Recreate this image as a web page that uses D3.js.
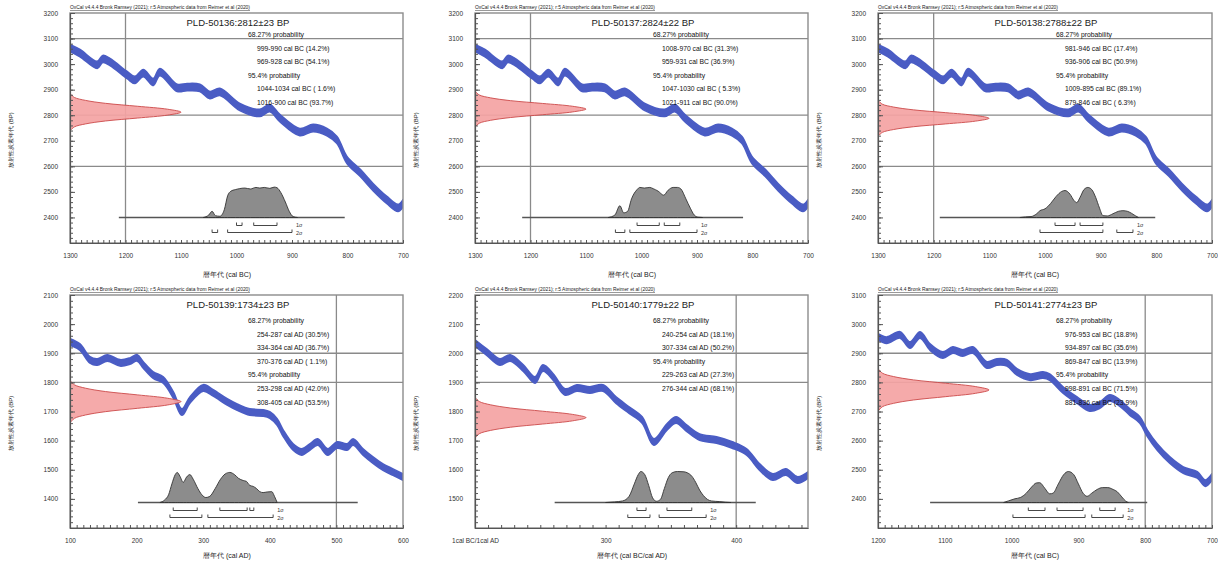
<!DOCTYPE html>
<html><head><meta charset="utf-8">
<script src="https://cdn.jsdelivr.net/npm/d3@7"></script>
<style>
body{margin:0;background:#fff;}
svg{display:block;}
text{font-family:"Liberation Sans",Arial,sans-serif;}
</style>
</head><body>
<svg id="c" width="1218" height="567"></svg>
<script>
// ---------------- DATA ----------------
const labCodes = ["PLD-50136","PLD-50137","PLD-50138","PLD-50139","PLD-50140","PLD-50141"];
const bpValues = [2812, 2824, 2788, 1734, 1779, 2774];
const bpErrors = [23, 22, 22, 23, 22, 23];
const xTitles = ["暦年代 (cal BC)","暦年代 (cal BC)","暦年代 (cal BC)","暦年代 (cal AD)","暦年代 (cal BC/cal AD)","暦年代 (cal BC)"];
const yTitle = "放射性炭素年代 (BP)";
const headerNote = "OxCal v4.4.4 Bronk Ramsey (2021); r:5 Atmospheric data from Reimer et al (2020)";

const xDomains = [[1300,700],[1300,700],[1300,700],[100,600],[200,455],[1200,700]];
const yDomains = [[2300,3200],[2300,3200],[2300,3200],[1300,2100],[1400,2200],[2300,3100]];
const xTickValues = [
  [1300,1200,1100,1000,900,800,700],[1300,1200,1100,1000,900,800,700],[1300,1200,1100,1000,900,800,700],
  [100,200,300,400,500,600],[200,300,400],[1200,1100,1000,900,800,700]];
const xTickLabels = [
  ["1300","1200","1100","1000","900","800","700"],["1300","1200","1100","1000","900","800","700"],
  ["1300","1200","1100","1000","900","800","700"],["100","200","300","400","500","600"],
  ["1cal BC/1cal AD","300","400"],["1200","1100","1000","900","800","700"]];
const yTickValues = [
  [2400,2500,2600,2700,2800,2900,3000,3100,3200],[2400,2500,2600,2700,2800,2900,3000,3100,3200],
  [2400,2500,2600,2700,2800,2900,3000,3100,3200],[1400,1500,1600,1700,1800,1900,2000,2100],
  [1500,1600,1700,1800,1900,2000,2100,2200],[2400,2500,2600,2700,2800,2900,3000,3100]];
const hGridValues = [[3100,2800,2600],[3100,2800,2600],[3100,2800,2600],[1900,1800],[2000,1900],[2900,2800]];
const vGridValues = [[1200],[1200],[1200],[500],[400],[800]];

// calibration curve (IntCal20)
const curveBCYears = [1300,1282,1251,1241,1228,1197,1183,1168,1150,1138,1107,1089,1066,1048,1030,994,958,940,922,886,862,837,819,801,777,754,729,709,700];
const curveBCBP    = [3063,3043,2997,3020,3008,2957,2938,2965,2930,2969,2907,2910,2907,2879,2891,2832,2809,2828,2789,2734,2750,2734,2703,2625,2574,2519,2468,2437,2456];
const curve4Years = [100,115,130,141,156,175,190,201,210,225,240,255,268,280,300,315,336,351,370,390,400,411,420,435,448,460,472,487,501,516,525,540,555,570,585,600];
const curve4BP    = [1939,1921,1877,1870,1884,1867,1873,1884,1860,1825,1808,1757,1698,1739,1781,1764,1733,1715,1698,1695,1688,1664,1626,1578,1561,1578,1595,1561,1585,1578,1595,1561,1533,1509,1492,1475];
const curve5Years = [200,209,219,227,237,246,252,260,269,278,288,298,308,318,328,337,347,354,362,372,385,397,408,418,428,438,447,455];
const curve5BP    = [2035,2004,1970,1984,1949,1908,1949,1918,1867,1881,1874,1881,1839,1805,1771,1695,1747,1771,1743,1712,1702,1685,1661,1609,1575,1592,1565,1582];
const curve6Years = [1200,1187,1167,1152,1137,1122,1103,1088,1073,1058,1037,1022,1007,992,972,953,943,923,902,883,868,853,838,823,808,797,782,763,743,722,710,700];
const curve6BP    = [2956,2945,2963,2928,2963,2921,2894,2911,2901,2911,2860,2870,2867,2836,2818,2825,2818,2774,2739,2712,2722,2746,2729,2698,2671,2626,2578,2533,2499,2482,2454,2475];
const curveHalfWidth = [14,14,14,11,11,11];

// measured 14C age profile (offset in sigma units, relative height)
const measSigmaOffsets = [-3,-2.5,-2,-1.5,-1,-0.5,0,0.5,1,1.5,2,2.5,3];
const measRelHeights   = [0.01,0.04,0.14,0.32,0.61,0.88,1,0.88,0.61,0.32,0.14,0.04,0.01];

// calibrated distributions
const dist1Years = [1060,1050,1044,1038,1030,1022,1016,1010,1002,995,985,975,965,958,950,940,932,927,920,912,905,898,890];
const dist1Prob  = [0,0.08,0.2,0.06,0.04,0.25,0.7,0.85,0.9,0.93,0.95,0.92,0.97,0.95,0.97,0.94,0.98,0.96,0.8,0.5,0.2,0.03,0];
const dist2Years = [1060,1048,1039,1032,1025,1018,1008,1003,995,985,979,970,960,952,943,935,929,920,912,905,898,890];
const dist2Prob  = [0,0.08,0.38,0.15,0.2,0.6,0.9,0.97,0.95,0.97,0.93,0.85,0.72,0.88,0.97,0.97,0.92,0.6,0.3,0.08,0.01,0];
const dist3Years = [1045,1035,1025,1015,1009,1000,990,980,970,964,955,948,943,937,930,923,916,909,902,896,888,878,868,860,852,845,838,832];
const dist3Prob  = [0,0.02,0.03,0.12,0.22,0.28,0.45,0.68,0.84,0.87,0.75,0.55,0.48,0.65,0.9,0.97,0.9,0.65,0.3,0.06,0.05,0.12,0.2,0.22,0.2,0.14,0.06,0];
const dist4Years = [235,242,248,253,258,261,265,270,275,280,285,292,298,304,310,318,326,333,340,347,353,360,365,370,375,380,385,390,396,403,407,411];
const dist4Prob  = [0,0.08,0.25,0.6,0.9,0.97,0.85,0.65,0.82,0.9,0.75,0.45,0.25,0.16,0.2,0.45,0.75,0.92,0.97,0.9,0.78,0.71,0.68,0.55,0.52,0.45,0.35,0.32,0.34,0.35,0.2,0];
const dist5Years = [300,307,313,318,322,325,327,330,333,336,339,342,345,348,351,355,360,363,366,369,372,375,378,381,387,392,396];
const dist5Prob  = [0,0.02,0.05,0.2,0.6,0.9,1,0.9,0.55,0.15,0.04,0.1,0.45,0.8,0.96,1,0.99,0.95,0.85,0.65,0.4,0.22,0.1,0.05,0.03,0.01,0];
const dist6Years = [1012,1005,995,987,978,970,963,958,950,943,938,930,922,915,907,900,893,887,880,872,864,856,848,842,835,829,825];
const dist6Prob  = [0,0.05,0.12,0.16,0.3,0.5,0.63,0.64,0.45,0.28,0.3,0.6,0.9,1,0.9,0.6,0.3,0.2,0.3,0.42,0.48,0.48,0.42,0.35,0.18,0.04,0];
const distBaseSpans = [[1212,805],[1215,817],[1189,802],[202,532],[261,415],[1122,797]];

// 1σ / 2σ ranges
const sigma1Ranges = [
  [[1000,990],[969,927]], [[1008,968],[959,931]], [[982,946],[937,896]],
  [[255,291],[325,366],[370,376]], [[324,331],[347,366]], [[975,950],[932,893],[868,845]]];
const sigma2Ranges = [
  [[1044,1034],[1016,900]], [[1047,1030],[1021,900]], [[1009,896],[871,842]],
  [[250,298],[307,405]], [[317,334],[341,377]], [[998,890],[880,833]]];

// probability text lines
const probTexts = [
  ["68.27% probability","999-990 cal BC (14.2%)","969-928 cal BC (54.1%)","95.4% probability","1044-1034 cal BC ( 1.6%)","1016-900 cal BC (93.7%)"],
  ["68.27% probability","1008-970 cal BC (31.3%)","959-931 cal BC (36.9%)","95.4% probability","1047-1030 cal BC ( 5.3%)","1021-911 cal BC (90.0%)"],
  ["68.27% probability","981-946 cal BC (17.4%)","936-906 cal BC (50.9%)","95.4% probability","1009-895 cal BC (89.1%)","879-846 cal BC ( 6.3%)"],
  ["68.27% probability","254-287 cal AD (30.5%)","334-364 cal AD (36.7%)","370-376 cal AD ( 1.1%)","95.4% probability","253-298 cal AD (42.0%)","308-405 cal AD (53.5%)"],
  ["68.27% probability","240-254 cal AD (18.1%)","307-334 cal AD (50.2%)","95.4% probability","229-263 cal AD (27.3%)","276-344 cal AD (68.1%)"],
  ["68.27% probability","976-953 cal BC (18.8%)","934-897 cal BC (35.6%)","869-847 cal BC (13.9%)","95.4% probability","998-891 cal BC (71.5%)","881-836 cal BC (23.9%)"]];

// ---------------- LAYOUT ----------------
const boxes = [
  {L:70,R:403,T:13,B:243},{L:475,R:808,T:13,B:243},{L:878,R:1212,T:13,B:243},
  {L:70,R:403,T:295,B:528},{L:475,R:808,T:295,B:528},{L:878,R:1212,T:295,B:528}];
const curveYears = [curveBCYears,curveBCYears,curveBCYears,curve4Years,curve5Years,curve6Years];
const curveBPs   = [curveBCBP,curveBCBP,curveBCBP,curve4BP,curve5BP,curve6BP];
const distYears = [dist1Years,dist2Years,dist3Years,dist4Years,dist5Years,dist6Years];
const distProbs = [dist1Prob,dist2Prob,dist3Prob,dist4Prob,dist5Prob,dist6Prob];

const svg = d3.select("#c");
const defs = svg.append("defs");

boxes.forEach((b,i)=>{
  const g = svg.append("g");
  const x = d3.scaleLinear().domain(xDomains[i]).range([b.L,b.R]);
  const y = d3.scaleLinear().domain(yDomains[i]).range([b.B,b.T]);
  const top = i<3;

  defs.append("clipPath").attr("id","clip"+i).append("rect")
    .attr("x",b.L).attr("y",b.T).attr("width",b.R-b.L).attr("height",b.B-b.T);
  const pg = g.append("g").attr("clip-path","url(#clip"+i+")");

  // gridlines
  hGridValues[i].forEach(v=>pg.append("line").attr("x1",b.L).attr("x2",b.R)
    .attr("y1",y(v)).attr("y2",y(v)).attr("stroke","#8a8a8a").attr("stroke-width",1.3));
  vGridValues[i].forEach(v=>pg.append("line").attr("y1",b.T).attr("y2",b.B)
    .attr("x1",x(v)).attr("x2",x(v)).attr("stroke","#8a8a8a").attr("stroke-width",1.3));

  // calibration curve band
  const cy = curveBPs[i], cx = curveYears[i], hw = curveHalfWidth[i];
  const band = d3.area().curve(d3.curveCatmullRom.alpha(0.5))
    .x((d,j)=>x(cx[j])).y0(d=>y(d-hw)).y1(d=>y(d+hw));
  pg.append("path").datum(cy).attr("d",band)
    .attr("fill","#4a5cc4").attr("stroke","#4a5cc4").attr("stroke-width",1.6).attr("stroke-linejoin","round");

  // measured age distribution (red)
  const xr = d3.scaleLinear().domain([0,1]).range([b.L, b.L+111]);
  const meas = d3.area().curve(d3.curveCatmullRom)
    .y(d=>y(bpValues[i]+d*bpErrors[i])).x0(b.L).x1((d,j)=>xr(measRelHeights[j]));
  pg.append("path").datum(measSigmaOffsets).attr("d",meas)
    .attr("fill","#f4a3a3").attr("fill-opacity",0.92).attr("stroke","#cc4a4a").attr("stroke-width",0.9);

  // calibrated distribution (gray)
  const baseY = b.B-25.5;
  const hs = d3.scaleLinear().domain([0,1]).range([baseY, baseY-31]);
  const sp = distBaseSpans[i];
  pg.append("line").attr("x1",x(sp[0])).attr("x2",x(sp[1])).attr("y1",baseY).attr("y2",baseY)
    .attr("stroke","#555").attr("stroke-width",1.4);
  const dist = d3.area().curve(d3.curveMonotoneX)
    .x((d,j)=>x(distYears[i][j])).y0(baseY).y1(d=>hs(d));
  pg.append("path").datum(distProbs[i]).attr("d",dist)
    .attr("fill","#8c8c8c").attr("stroke","#333").attr("stroke-width",0.9);

  // range brackets
  const drawBr = (ranges,yb)=>ranges.forEach(r=>{
    const x1=x(r[0]), x2=x(r[1]);
    g.append("path").attr("d",`M${x1},${yb-3}V${yb}H${x2}V${yb-3}`)
      .attr("fill","none").attr("stroke","#333").attr("stroke-width",0.9);
  });
  drawBr(sigma1Ranges[i], baseY+8);
  drawBr(sigma2Ranges[i], baseY+15);
  const lastEnd = d3.max(sigma2Ranges[i].concat(sigma1Ranges[i]).map(r=>x(r[1])));
  g.append("text").attr("x",lastEnd+4).attr("y",baseY+9).attr("font-size",5.5).attr("fill","#333").text("1σ");
  g.append("text").attr("x",lastEnd+4).attr("y",baseY+17).attr("font-size",5.5).attr("fill","#333").text("2σ");

  // frame
  g.append("rect").attr("x",b.L).attr("y",b.T).attr("width",b.R-b.L).attr("height",b.B-b.T)
    .attr("fill","none").attr("stroke","#8c8c8c").attr("stroke-width",1.4);

  // y axis
  const ya = g.append("g").attr("transform",`translate(${b.L},0)`)
    .call(d3.axisLeft(y).tickValues(yTickValues[i]).tickSize(0).tickPadding(12).tickFormat(d3.format("d")));
  ya.select(".domain").attr("stroke","#555").attr("stroke-width",1.2);
  ya.selectAll("text").attr("font-size",6.5).attr("fill","#333").attr("font-family","Liberation Sans, Arial");
  const yMinor = d3.range(yDomains[i][0], yDomains[i][1]+1, 20);
  g.append("g").attr("transform",`translate(${b.L},0)`)
    .call(d3.axisRight(y).tickValues(yMinor).tickSize(3).tickFormat(""))
    .call(s=>{s.select(".domain").remove(); s.selectAll("line").attr("stroke","#555");});
  g.append("g").attr("transform",`translate(${b.L},0)`)
    .call(d3.axisRight(y).tickValues(yTickValues[i]).tickSize(5).tickFormat(""))
    .call(s=>{s.select(".domain").remove(); s.selectAll("line").attr("stroke","#555");});

  // x axis
  const xa = g.append("g").attr("transform",`translate(0,${b.B})`)
    .call(d3.axisBottom(x).tickValues(xTickValues[i]).tickSize(0).tickPadding(10)
      .tickFormat((d,k)=>xTickLabels[i][k]));
  xa.select(".domain").attr("stroke","#555").attr("stroke-width",1.2);
  xa.selectAll("text").attr("font-size",6.5).attr("fill","#333").attr("font-family","Liberation Sans, Arial");
  const xd = xDomains[i], lo = Math.min(xd[0],xd[1]), hi = Math.max(xd[0],xd[1]);
  const xMinor = d3.range(Math.ceil(lo/10)*10, hi+1, 10);
  g.append("g").attr("transform",`translate(0,${b.B})`)
    .call(d3.axisTop(x).tickValues(xMinor).tickSize(3).tickFormat(""))
    .call(s=>{s.select(".domain").remove(); s.selectAll("line").attr("stroke","#555");});

  // titles
  g.append("text").attr("x",b.L+157).attr("y",b.B+(top?34:30)).attr("text-anchor","middle")
    .attr("font-size",7).attr("fill","#222").text(xTitles[i]);
  g.append("text").attr("transform",`translate(${b.L-57},${(b.T+b.B)/2+12}) rotate(-90)`)
    .attr("text-anchor","middle").attr("font-size",6).attr("fill","#222").text(yTitle);
  g.append("text").attr("x",b.L).attr("y",b.T-4).attr("font-size",4.6).attr("fill","#222")
    .attr("text-decoration","underline").attr("textLength",180).attr("lengthAdjust","spacingAndGlyphs").text(headerNote);
  g.append("text").attr("x",b.L+168).attr("y",b.T+13).attr("text-anchor","middle")
    .attr("font-size",9.5).attr("fill","#222").text(`${labCodes[i]}:${bpValues[i]}±${bpErrors[i]} BP`);

  // probability text
  const x0 = b.L+178, y0 = b.T+(top?24:28);
  probTexts[i].forEach((t,k)=>{
    const head = t.indexOf("probability")>=0;
    g.append("text").attr("x",head?x0:x0+9).attr("y",y0+k*13.6)
      .attr("font-size",6.8).attr("fill","#111").text(t);
  });
});
</script>
</body></html>
